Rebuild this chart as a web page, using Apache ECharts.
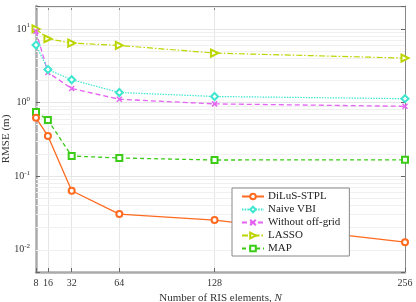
<!DOCTYPE html>
<html><head><meta charset="utf-8">
<script src="https://cdn.jsdelivr.net/npm/echarts@6/dist/echarts.min.js"></script>
<style>html,body{margin:0;padding:0;background:#fff}#c{width:416px;height:302px}</style>
</head><body><div id="c"></div>
<script>
var xValues = [8, 16, 32, 64, 128, 256];
var xTicks = [8, 16, 32, 64, 128, 256];
var diluS = [0.62, 0.352, 0.0635, 0.0306, 0.0254, 0.0127];
var naiveVBI = [6.04, 2.81, 2.04, 1.37, 1.21, 1.13];
var withoutOffGrid = [9.3, 2.56, 1.55, 1.11, 0.96, 0.89];
var lasso = [10.0, 7.36, 6.43, 5.97, 4.7, 4.02];
var mapEst = [0.747, 0.58, 0.188, 0.177, 0.166, 0.167];
var seriesNames = ['DiLuS-STPL', 'Naive VBI', 'Without off-grid', 'LASSO', 'MAP'];

var minorGrid = [];
[-3, -2, -1, 0, 1].forEach(function (e) {
  for (var k = 2; k <= 9; k++) minorGrid.push(k * Math.pow(10, e));
});

function pairs(arr) { return xValues.map(function (x, i) { return [x, arr[i]]; }); }

var FONT = '"Liberation Serif", "Times New Roman", serif';
var chart = echarts.init(document.getElementById('c'), null, {renderer: 'canvas'});

function supLabel(v) {
  var e = Math.log10(v);
  var r = Math.round(e);
  if (Math.abs(e - r) > 1e-6) return '';
  return '{b|10}{s|' + r + '}';
}

var option = {
  animation: false,
  backgroundColor: '#fff',
  textStyle: {fontFamily: FONT},
  grid: {left: 36, right: 11, top: 6, bottom: 30, containLabel: false, outerBoundsMode: 'none'},
  legend: {
    data: seriesNames,
    orient: 'vertical',
    left: 232, top: 188, z: 10,
    itemWidth: 22, itemHeight: 7, itemGap: 2,
    backgroundColor: '#fff',
    borderColor: '#888', borderWidth: 1, borderRadius: 0,
    padding: [3, 9, 2, 9],
    textStyle: {fontFamily: FONT, fontSize: 11, color: '#222', padding: [0, 0, 0, -1]}
  },
  xAxis: [{
    type: 'value', min: 8, max: 256,
    name: 'Number of RIS elements, {i|N}',
    nameLocation: 'middle', nameGap: 20,
    nameTextStyle: {fontFamily: FONT, fontSize: 11, color: '#333',
      rich: {i: {fontFamily: FONT, fontStyle: 'italic', fontSize: 11, color: '#333'}}},
    axisLine: {lineStyle: {color: '#aaa', width: 2.5}},
    axisTick: {inside: true, length: 4, customValues: xTicks, lineStyle: {color: '#666'}},
    axisLabel: {customValues: xTicks, margin: 6, fontFamily: FONT, fontSize: 10, color: '#333'},
    splitLine: {show: true, lineStyle: {color: '#e6e6e6', width: 1}}
  }, {
    type: 'value', min: 8, max: 256, position: 'top',
    axisLine: {show: true, lineStyle: {color: '#888', width: 1}},
    axisTick: {inside: true, length: 4, customValues: xTicks, lineStyle: {color: '#888'}},
    axisLabel: {show: false},
    splitLine: {show: false}
  }],
  yAxis: [{
    type: 'log', logBase: 10, min: 0.005, max: 20.5,
    name: 'RMSE (m)', nameLocation: 'middle', nameGap: 24, nameMoveOverlap: false,
    nameTextStyle: {fontFamily: FONT, fontSize: 11, color: '#333'},
    axisLine: {show: true, lineStyle: {color: '#aaa', width: 2.5}},
    axisTick: {show: true, inside: true, length: 4, lineStyle: {color: '#666'}},
    axisLabel: {
      margin: 6, formatter: supLabel, fontFamily: FONT, color: '#333',
      rich: {
        b: {fontFamily: FONT, fontSize: 10, color: '#333'},
        s: {fontFamily: FONT, fontSize: 7, color: '#333', padding: [0, 0, 7, 0]}
      }
    },
    splitLine: {show: true, lineStyle: {color: '#e6e6e6', width: 1}},
    minorTick: {show: false}
  }, {
    type: 'log', logBase: 10, min: 0.005, max: 20.5, position: 'right',
    axisLine: {show: true, lineStyle: {color: '#888', width: 1}},
    axisTick: {show: true, inside: true, length: 4, lineStyle: {color: '#666'}},
    axisLabel: {show: false},
    splitLine: {show: false}
  }],
  series: [
    {
      name: 'minor', type: 'line', data: [], z: 1, silent: true,
      markLine: {
        z: 1, silent: true, symbol: ['none', 'none'], label: {show: false},
        lineStyle: {color: '#f0f0f0', width: 1, type: 'solid'},
        data: minorGrid.map(function (v) { return {yAxis: v}; }),
        animation: false
      }
    },
    {
      name: 'DiLuS-STPL', type: 'line', data: pairs(diluS), z: 6,
      symbol: 'emptyCircle', symbolSize: 6,
      lineStyle: {color: '#FF6A1F', width: 1.3, type: 'solid'},
      itemStyle: {color: '#FF6A1F', borderWidth: 1.2}
    },
    {
      name: 'Naive VBI', type: 'line', data: pairs(naiveVBI), z: 5,
      symbol: 'emptyDiamond', symbolSize: 7,
      lineStyle: {color: '#3FE6CF', width: 1.2, type: [1.5, 1.2]},
      itemStyle: {color: '#3FE6CF', borderWidth: 1.2}
    },
    {
      name: 'Without off-grid', type: 'line', data: pairs(withoutOffGrid), z: 4,
      symbol: 'path://M0,0L10,10M10,0L0,10', symbolSize: 5,
      lineStyle: {color: '#E463F2', width: 1.3, type: [5, 3]},
      itemStyle: {color: '#E463F2', borderColor: '#E463F2', borderWidth: 1.5}
    },
    {
      name: 'LASSO', type: 'line', data: pairs(lasso), z: 3,
      symbol: 'emptyTriangle', symbolRotate: -90, symbolSize: 7,
      lineStyle: {color: '#BCD500', width: 1.2, type: [6, 2, 1.5, 2]},
      itemStyle: {color: '#BCD500', borderWidth: 1.2}
    },
    {
      name: 'MAP', type: 'line', data: pairs(mapEst), z: 3,
      symbol: 'emptyRect', symbolSize: 6,
      lineStyle: {color: '#3BCC18', width: 1.3, type: [4, 3]},
      itemStyle: {color: '#3BCC18', borderWidth: 1.2}
    }
  ]
};
chart.setOption(option);
</script></body></html>
